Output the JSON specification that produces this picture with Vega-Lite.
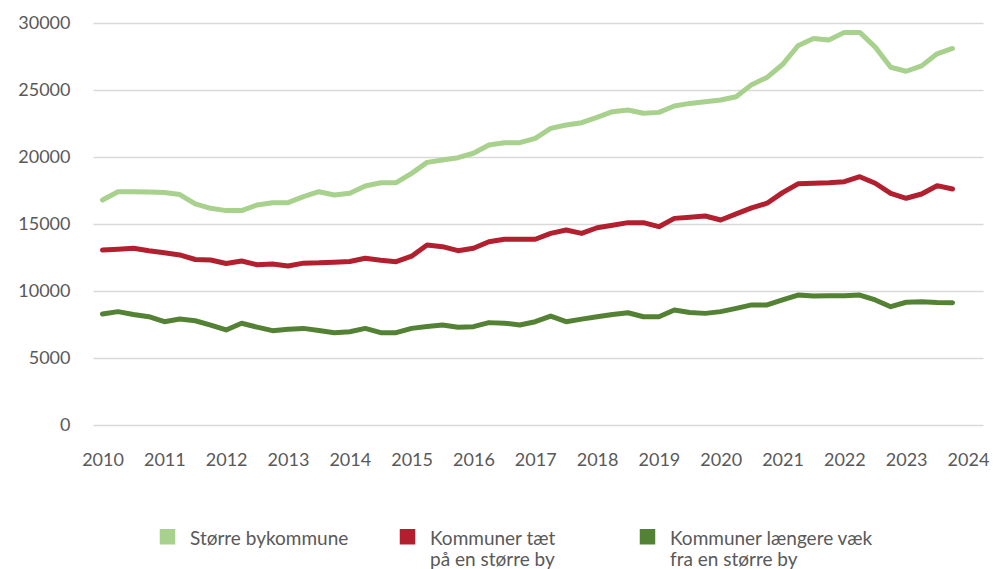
{
  "$schema": "https://vega.github.io/schema/vega-lite/v6.json",
  "width": 890,
  "height": 402,
  "autosize": {"type": "none"},
  "padding": {"left": 93, "top": 23, "right": 11, "bottom": 144},
  "background": "white",
  "config": {
    "view": {"stroke": null},
    "font": "Lato",
    "axis": {"labelFont": "Lato", "labelColor": "#595959", "labelFontSize": 18}
  },
  "data": {
    "values": [
      {"t": 2010.00, "s": "Større bykommune", "v": 16790}, {"t": 2010.25, "s": "Større bykommune", "v": 17410}, {"t": 2010.50, "s": "Større bykommune", "v": 17400}, {"t": 2010.75, "s": "Større bykommune", "v": 17380},
      {"t": 2011.00, "s": "Større bykommune", "v": 17350}, {"t": 2011.25, "s": "Større bykommune", "v": 17200}, {"t": 2011.50, "s": "Større bykommune", "v": 16500}, {"t": 2011.75, "s": "Større bykommune", "v": 16170},
      {"t": 2012.00, "s": "Større bykommune", "v": 16000}, {"t": 2012.25, "s": "Større bykommune", "v": 16000}, {"t": 2012.50, "s": "Større bykommune", "v": 16420}, {"t": 2012.75, "s": "Større bykommune", "v": 16590},
      {"t": 2013.00, "s": "Større bykommune", "v": 16590}, {"t": 2013.25, "s": "Større bykommune", "v": 17040}, {"t": 2013.50, "s": "Større bykommune", "v": 17410}, {"t": 2013.75, "s": "Større bykommune", "v": 17160},
      {"t": 2014.00, "s": "Større bykommune", "v": 17290}, {"t": 2014.25, "s": "Større bykommune", "v": 17840}, {"t": 2014.50, "s": "Større bykommune", "v": 18080}, {"t": 2014.75, "s": "Større bykommune", "v": 18080},
      {"t": 2015.00, "s": "Større bykommune", "v": 18780}, {"t": 2015.25, "s": "Større bykommune", "v": 19600}, {"t": 2015.50, "s": "Større bykommune", "v": 19780}, {"t": 2015.75, "s": "Større bykommune", "v": 19950},
      {"t": 2016.00, "s": "Større bykommune", "v": 20280}, {"t": 2016.25, "s": "Større bykommune", "v": 20900}, {"t": 2016.50, "s": "Større bykommune", "v": 21070}, {"t": 2016.75, "s": "Større bykommune", "v": 21070},
      {"t": 2017.00, "s": "Større bykommune", "v": 21390}, {"t": 2017.25, "s": "Større bykommune", "v": 22140}, {"t": 2017.50, "s": "Større bykommune", "v": 22390}, {"t": 2017.75, "s": "Større bykommune", "v": 22560},
      {"t": 2018.00, "s": "Større bykommune", "v": 22960}, {"t": 2018.25, "s": "Større bykommune", "v": 23380}, {"t": 2018.50, "s": "Større bykommune", "v": 23510}, {"t": 2018.75, "s": "Større bykommune", "v": 23260},
      {"t": 2019.00, "s": "Større bykommune", "v": 23330}, {"t": 2019.25, "s": "Større bykommune", "v": 23810}, {"t": 2019.50, "s": "Større bykommune", "v": 24000}, {"t": 2019.75, "s": "Større bykommune", "v": 24130},
      {"t": 2020.00, "s": "Større bykommune", "v": 24250}, {"t": 2020.25, "s": "Større bykommune", "v": 24500}, {"t": 2020.50, "s": "Større bykommune", "v": 25400}, {"t": 2020.75, "s": "Større bykommune", "v": 25940},
      {"t": 2021.00, "s": "Større bykommune", "v": 26900}, {"t": 2021.25, "s": "Større bykommune", "v": 28300}, {"t": 2021.50, "s": "Større bykommune", "v": 28850}, {"t": 2021.75, "s": "Større bykommune", "v": 28730},
      {"t": 2022.00, "s": "Større bykommune", "v": 29300}, {"t": 2022.25, "s": "Større bykommune", "v": 29300}, {"t": 2022.50, "s": "Større bykommune", "v": 28200}, {"t": 2022.75, "s": "Større bykommune", "v": 26700},
      {"t": 2023.00, "s": "Større bykommune", "v": 26400}, {"t": 2023.25, "s": "Større bykommune", "v": 26800}, {"t": 2023.50, "s": "Større bykommune", "v": 27700}, {"t": 2023.75, "s": "Større bykommune", "v": 28100},

      {"t": 2010.00, "s": "Kommuner tæt på en større by", "v": 13060}, {"t": 2010.25, "s": "Kommuner tæt på en større by", "v": 13120}, {"t": 2010.50, "s": "Kommuner tæt på en større by", "v": 13190}, {"t": 2010.75, "s": "Kommuner tæt på en større by", "v": 13000},
      {"t": 2011.00, "s": "Kommuner tæt på en større by", "v": 12850}, {"t": 2011.25, "s": "Kommuner tæt på en større by", "v": 12690}, {"t": 2011.50, "s": "Kommuner tæt på en større by", "v": 12350}, {"t": 2011.75, "s": "Kommuner tæt på en større by", "v": 12310},
      {"t": 2012.00, "s": "Kommuner tæt på en større by", "v": 12050}, {"t": 2012.25, "s": "Kommuner tæt på en større by", "v": 12240}, {"t": 2012.50, "s": "Kommuner tæt på en større by", "v": 11960}, {"t": 2012.75, "s": "Kommuner tæt på en større by", "v": 12010},
      {"t": 2013.00, "s": "Kommuner tæt på en større by", "v": 11870}, {"t": 2013.25, "s": "Kommuner tæt på en større by", "v": 12080}, {"t": 2013.50, "s": "Kommuner tæt på en større by", "v": 12100}, {"t": 2013.75, "s": "Kommuner tæt på en større by", "v": 12150},
      {"t": 2014.00, "s": "Kommuner tæt på en større by", "v": 12200}, {"t": 2014.25, "s": "Kommuner tæt på en større by", "v": 12440}, {"t": 2014.50, "s": "Kommuner tæt på en større by", "v": 12300}, {"t": 2014.75, "s": "Kommuner tæt på en større by", "v": 12190},
      {"t": 2015.00, "s": "Kommuner tæt på en større by", "v": 12600}, {"t": 2015.25, "s": "Kommuner tæt på en større by", "v": 13430}, {"t": 2015.50, "s": "Kommuner tæt på en større by", "v": 13310}, {"t": 2015.75, "s": "Kommuner tæt på en større by", "v": 13010},
      {"t": 2016.00, "s": "Kommuner tæt på en større by", "v": 13190}, {"t": 2016.25, "s": "Kommuner tæt på en større by", "v": 13680}, {"t": 2016.50, "s": "Kommuner tæt på en større by", "v": 13860}, {"t": 2016.75, "s": "Kommuner tæt på en større by", "v": 13860},
      {"t": 2017.00, "s": "Kommuner tæt på en større by", "v": 13860}, {"t": 2017.25, "s": "Kommuner tæt på en større by", "v": 14300}, {"t": 2017.50, "s": "Kommuner tæt på en større by", "v": 14550}, {"t": 2017.75, "s": "Kommuner tæt på en større by", "v": 14300},
      {"t": 2018.00, "s": "Kommuner tæt på en større by", "v": 14720}, {"t": 2018.25, "s": "Kommuner tæt på en større by", "v": 14900}, {"t": 2018.50, "s": "Kommuner tæt på en større by", "v": 15100}, {"t": 2018.75, "s": "Kommuner tæt på en større by", "v": 15100},
      {"t": 2019.00, "s": "Kommuner tæt på en større by", "v": 14800}, {"t": 2019.25, "s": "Kommuner tæt på en større by", "v": 15420}, {"t": 2019.50, "s": "Kommuner tæt på en større by", "v": 15500}, {"t": 2019.75, "s": "Kommuner tæt på en større by", "v": 15600},
      {"t": 2020.00, "s": "Kommuner tæt på en større by", "v": 15300}, {"t": 2020.25, "s": "Kommuner tæt på en større by", "v": 15750}, {"t": 2020.50, "s": "Kommuner tæt på en større by", "v": 16200}, {"t": 2020.75, "s": "Kommuner tæt på en større by", "v": 16550},
      {"t": 2021.00, "s": "Kommuner tæt på en større by", "v": 17340}, {"t": 2021.25, "s": "Kommuner tæt på en større by", "v": 18000}, {"t": 2021.50, "s": "Kommuner tæt på en større by", "v": 18050}, {"t": 2021.75, "s": "Kommuner tæt på en større by", "v": 18080},
      {"t": 2022.00, "s": "Kommuner tæt på en større by", "v": 18160}, {"t": 2022.25, "s": "Kommuner tæt på en større by", "v": 18530}, {"t": 2022.50, "s": "Kommuner tæt på en større by", "v": 18040}, {"t": 2022.75, "s": "Kommuner tæt på en større by", "v": 17290},
      {"t": 2023.00, "s": "Kommuner tæt på en større by", "v": 16920}, {"t": 2023.25, "s": "Kommuner tæt på en større by", "v": 17240}, {"t": 2023.50, "s": "Kommuner tæt på en større by", "v": 17860}, {"t": 2023.75, "s": "Kommuner tæt på en større by", "v": 17610},

      {"t": 2010.00, "s": "Kommuner længere væk fra en større by", "v": 8280}, {"t": 2010.25, "s": "Kommuner længere væk fra en større by", "v": 8460}, {"t": 2010.50, "s": "Kommuner længere væk fra en større by", "v": 8250}, {"t": 2010.75, "s": "Kommuner længere væk fra en større by", "v": 8080},
      {"t": 2011.00, "s": "Kommuner længere væk fra en større by", "v": 7710}, {"t": 2011.25, "s": "Kommuner længere væk fra en større by", "v": 7910}, {"t": 2011.50, "s": "Kommuner længere væk fra en større by", "v": 7780}, {"t": 2011.75, "s": "Kommuner længere væk fra en større by", "v": 7460},
      {"t": 2012.00, "s": "Kommuner længere væk fra en større by", "v": 7090}, {"t": 2012.25, "s": "Kommuner længere væk fra en større by", "v": 7590}, {"t": 2012.50, "s": "Kommuner længere væk fra en større by", "v": 7300}, {"t": 2012.75, "s": "Kommuner længere væk fra en større by", "v": 7040},
      {"t": 2013.00, "s": "Kommuner længere væk fra en større by", "v": 7150}, {"t": 2013.25, "s": "Kommuner længere væk fra en større by", "v": 7210}, {"t": 2013.50, "s": "Kommuner længere væk fra en større by", "v": 7050}, {"t": 2013.75, "s": "Kommuner længere væk fra en større by", "v": 6890},
      {"t": 2014.00, "s": "Kommuner længere væk fra en større by", "v": 6960}, {"t": 2014.25, "s": "Kommuner længere væk fra en større by", "v": 7210}, {"t": 2014.50, "s": "Kommuner længere væk fra en større by", "v": 6890}, {"t": 2014.75, "s": "Kommuner længere væk fra en større by", "v": 6890},
      {"t": 2015.00, "s": "Kommuner længere væk fra en større by", "v": 7210}, {"t": 2015.25, "s": "Kommuner længere væk fra en større by", "v": 7350}, {"t": 2015.50, "s": "Kommuner længere væk fra en større by", "v": 7460}, {"t": 2015.75, "s": "Kommuner længere væk fra en større by", "v": 7290},
      {"t": 2016.00, "s": "Kommuner længere væk fra en større by", "v": 7340}, {"t": 2016.25, "s": "Kommuner længere væk fra en større by", "v": 7640}, {"t": 2016.50, "s": "Kommuner længere væk fra en større by", "v": 7600}, {"t": 2016.75, "s": "Kommuner længere væk fra en større by", "v": 7460},
      {"t": 2017.00, "s": "Kommuner længere væk fra en større by", "v": 7710}, {"t": 2017.25, "s": "Kommuner længere væk fra en større by", "v": 8130}, {"t": 2017.50, "s": "Kommuner længere væk fra en større by", "v": 7710}, {"t": 2017.75, "s": "Kommuner længere væk fra en større by", "v": 7900},
      {"t": 2018.00, "s": "Kommuner længere væk fra en større by", "v": 8080}, {"t": 2018.25, "s": "Kommuner længere væk fra en større by", "v": 8250}, {"t": 2018.50, "s": "Kommuner længere væk fra en større by", "v": 8380}, {"t": 2018.75, "s": "Kommuner længere væk fra en større by", "v": 8080},
      {"t": 2019.00, "s": "Kommuner længere væk fra en større by", "v": 8080}, {"t": 2019.25, "s": "Kommuner længere væk fra en større by", "v": 8580}, {"t": 2019.50, "s": "Kommuner længere væk fra en større by", "v": 8400}, {"t": 2019.75, "s": "Kommuner længere væk fra en større by", "v": 8330},
      {"t": 2020.00, "s": "Kommuner længere væk fra en større by", "v": 8460}, {"t": 2020.25, "s": "Kommuner længere væk fra en større by", "v": 8700}, {"t": 2020.50, "s": "Kommuner længere væk fra en større by", "v": 8960}, {"t": 2020.75, "s": "Kommuner længere væk fra en større by", "v": 8960},
      {"t": 2021.00, "s": "Kommuner længere væk fra en større by", "v": 9330}, {"t": 2021.25, "s": "Kommuner længere væk fra en større by", "v": 9700}, {"t": 2021.50, "s": "Kommuner længere væk fra en større by", "v": 9630}, {"t": 2021.75, "s": "Kommuner længere væk fra en større by", "v": 9640},
      {"t": 2022.00, "s": "Kommuner længere væk fra en større by", "v": 9650}, {"t": 2022.25, "s": "Kommuner længere væk fra en større by", "v": 9700}, {"t": 2022.50, "s": "Kommuner længere væk fra en større by", "v": 9330}, {"t": 2022.75, "s": "Kommuner længere væk fra en større by", "v": 8830},
      {"t": 2023.00, "s": "Kommuner længere væk fra en større by", "v": 9160}, {"t": 2023.25, "s": "Kommuner længere væk fra en større by", "v": 9200}, {"t": 2023.50, "s": "Kommuner længere væk fra en større by", "v": 9150}, {"t": 2023.75, "s": "Kommuner længere væk fra en større by", "v": 9130}
    ]
  },
  "mark": {"type": "line", "strokeWidth": 5, "strokeCap": "round", "strokeJoin": "round"},
  "encoding": {
    "x": {
      "field": "t",
      "type": "quantitative",
      "scale": {"domain": [2009.846, 2024.243], "nice": false, "zero": false},
      "axis": {
        "title": null,
        "values": [2010, 2011, 2012, 2013, 2014, 2015, 2016, 2017, 2018, 2019, 2020, 2021, 2022, 2023, 2024],
        "format": "d",
        "grid": false,
        "domain": false,
        "ticks": false,
        "labelPadding": 26,
        "labelFlush": false,
        "labelOverlap": false
      }
    },
    "y": {
      "field": "v",
      "type": "quantitative",
      "scale": {"domain": [0, 30000], "nice": false},
      "axis": {
        "title": null,
        "values": [0, 5000, 10000, 15000, 20000, 25000, 30000],
        "format": "d",
        "grid": true,
        "gridColor": "#D9D9D9",
        "gridWidth": 1.5,
        "domain": false,
        "ticks": false,
        "labelPadding": 23
      }
    },
    "color": {
      "field": "s",
      "type": "nominal",
      "sort": ["Større bykommune", "Kommuner tæt på en større by", "Kommuner længere væk fra en større by"],
      "scale": {
        "domain": ["Større bykommune", "Kommuner tæt på en større by", "Kommuner længere væk fra en større by"],
        "range": ["#A9D18E", "#B2202F", "#548235"]
      },
      "legend": {
        "title": null,
        "orient": "none",
        "legendX": 65,
        "legendY": 504,
        "direction": "horizontal",
        "symbolType": "square",
        "symbolSize": 240,
        "symbolStrokeWidth": 0,
        "symbolOpacity": 1,
        "labelFont": "Lato",
        "labelFontSize": 19,
        "labelColor": "#595959",
        "labelOffset": 13,
        "labelLimit": 400,
        "labelBaseline": "top",
        "gridAlign": "all",
        "columnPadding": 4,
        "labelExpr": "datum.label == 'Kommuner tæt på en større by' ? ['Kommuner tæt', 'på en større by'] : datum.label == 'Kommuner længere væk fra en større by' ? ['Kommuner længere væk', 'fra en større by'] : [datum.label, ' ']",
        "encode": {
          "symbols": {"update": {"fill": {"scale": "color", "field": "value"}, "strokeWidth": {"value": 0}}},
          "labels": {"update": {"dy": {"value": -7}}}
        }
      }
    }
  }
}
